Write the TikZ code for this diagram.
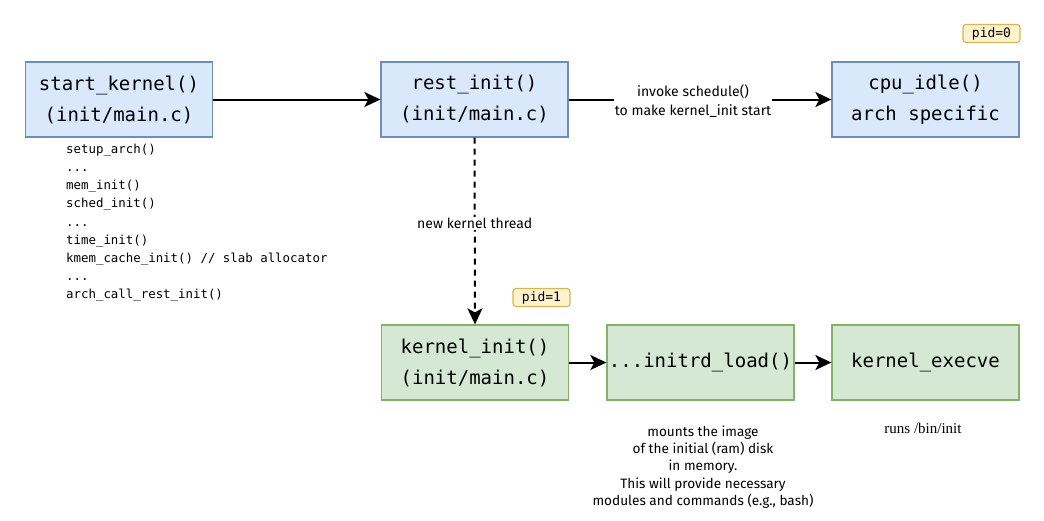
\documentclass[tikz,border=0pt]{standalone}
\usepackage{fontspec}
\setmainfont{Liberation Serif}
\setsansfont{Fira Sans}
\setmonofont{DejaVu Sans Mono}
\usetikzlibrary{arrows.meta}
\definecolor{bfill}{HTML}{DAE8FC}
\definecolor{bdraw}{HTML}{6C8EBF}
\definecolor{gfill}{HTML}{D5E8D4}
\definecolor{gdraw}{HTML}{82B366}
\definecolor{yfill}{HTML}{FFF2CC}
\definecolor{ydraw}{HTML}{D6B656}
\tikzset{
  box/.style={draw, line width=1.3pt, minimum width=187pt, minimum height=75pt, inner sep=0pt, align=center, font=\fontsize{19}{31}\ttfamily},
  bluebox/.style={box, fill=bfill, draw=bdraw},
  greenbox/.style={box, fill=gfill, draw=gdraw},
  pidbox/.style={draw=ydraw, fill=yfill, line width=1.2pt, rounded corners=3pt, minimum width=57pt, minimum height=18pt, inner sep=0pt, font=\fontsize{13}{13}\ttfamily},
  conn/.style={line width=2pt, -{Stealth[length=16pt,width=15pt,inset=4pt]}},
  lbl/.style={font=\fontsize{14}{19}\sffamily, align=center, inner sep=1pt},
}
\begin{document}
\begin{tikzpicture}[x=1pt,y=-1pt]
\useasboundingbox (0,0) rectangle (1044,520);
\node[bluebox] (sk) at (119,99.5) {start\_kernel()\\(init/main.c)};
\node[bluebox] (ri) at (474.5,99.5) {rest\_init()\\(init/main.c)};
\node[bluebox] (ci) at (925.5,99.5) {cpu\_idle()\\arch specific};
\node[pidbox] (p0) at (991.5,33.5) {pid=0};
\node[greenbox] (ki) at (475,362.5) {kernel\_init()\\(init/main.c)};
\node[greenbox] (il) at (700.5,362.5) {...initrd\_load()};
\node[greenbox] (ke) at (925.5,362.5) {kernel\_execve};
\node[pidbox] (p1) at (541.5,297.5) {pid=1};

\node[anchor=north west, inner sep=0pt, align=left, font=\fontsize{12.4}{18.1}\ttfamily] (code) at (66,144)
{setup\_arch()\\...\\mem\_init()\\sched\_init()\\...\\time\_init()\\kmem\_cache\_init() // slab allocator\\...\\arch\_call\_rest\_init()};

\draw[conn] (sk) -- (ri);
\node[lbl, fill=white] (l1) at (693,101.5) {invoke schedule()\\to make kernel\_init start};
\draw[line width=2pt] (ri.east) -- (ri.east -| l1.west);
\draw[conn] (ci.west -| l1.east) -- (ci.west);
\draw[conn, dashed, dash pattern=on 6pt off 5pt] (ri.south) -- (ki.north)
  node[pos=0.46, lbl, fill=white] (l2) {new kernel thread};
\draw[conn] (ki) -- (il);
\draw[conn] (il) -- (ke);

\node[lbl, font=\fontsize{13.6}{17.3}\sffamily] (l3) at (703,467) {mounts the image\\of the initial (ram) disk\\in memory.\\This will provide necessary\\modules and commands (e.g., bash)};
\node[font=\fontsize{15}{16}\rmfamily] (l4) at (923,428.5) {runs /bin/init};
\end{tikzpicture}
\end{document}
